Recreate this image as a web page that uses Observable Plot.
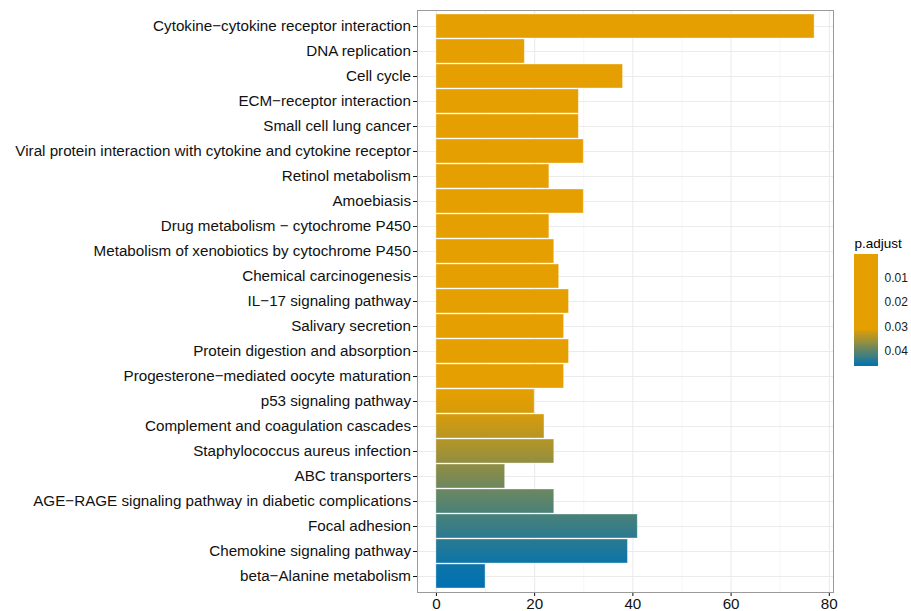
<!DOCTYPE html>
<html><head><meta charset="utf-8">
<script src="https://cdn.jsdelivr.net/npm/d3@7"></script>
<script src="https://cdn.jsdelivr.net/npm/@observablehq/plot@0.6"></script>
<style>
body{margin:0;background:#fff;font-family:"Liberation Sans",Arial,Helvetica,sans-serif;}
#wrap{position:relative;width:911px;height:611px;overflow:hidden;}
#main{position:absolute;left:0;top:0;}
#legend{position:absolute;left:840px;top:231px;}
</style></head><body>
<div id="wrap"><div id="main"></div><div id="legend"></div></div>
<script>
const pathways = [
  "Cytokine\u2212cytokine receptor interaction",
  "DNA replication",
  "Cell cycle",
  "ECM\u2212receptor interaction",
  "Small cell lung cancer",
  "Viral protein interaction with cytokine and cytokine receptor",
  "Retinol metabolism",
  "Amoebiasis",
  "Drug metabolism \u2212 cytochrome P450",
  "Metabolism of xenobiotics by cytochrome P450",
  "Chemical carcinogenesis",
  "IL\u221217 signaling pathway",
  "Salivary secretion",
  "Protein digestion and absorption",
  "Progesterone\u2212mediated oocyte maturation",
  "p53 signaling pathway",
  "Complement and coagulation cascades",
  "Staphylococcus aureus infection",
  "ABC transporters",
  "AGE\u2212RAGE signaling pathway in diabetic complications",
  "Focal adhesion",
  "Chemokine signaling pathway",
  "beta\u2212Alanine metabolism"
];
const counts = [77, 18, 38, 29, 29, 30, 23, 30, 23, 24, 25, 27, 26, 27, 26, 20, 22, 24, 14, 24, 41, 39, 10];
const padj = [0.0001, 0.0009, 0.0015, 0.0031, 0.0042, 0.0049, 0.0058, 0.0072, 0.0095, 0.011, 0.013, 0.015, 0.018, 0.021, 0.026,
              0.031, 0.033, 0.0355, 0.038, 0.0405, 0.0425, 0.0448, 0.0465];
const xTicks = [0, 20, 40, 60, 80];
const xMinor = [10, 30, 50, 70];
const legendTicks = [0.01, 0.02, 0.03, 0.04];
const colorDomain = [0, 0.031, 0.0465];
const colorRange = ["#E69F00", "#E69F00", "#0072B2"];

const data = pathways.map((p, i) => ({pathway: p, count: counts[i], padj: padj[i]}));
const n = data.length;

const plot = Plot.plot({
  width: 911,
  height: 611,
  marginLeft: 417,
  marginRight: 78,
  marginTop: 10,
  marginBottom: 19,
  style: {fontFamily: '"Liberation Sans", Arial, Helvetica, sans-serif', background: "#fff", color: "#1a1a1a"},
  x: {domain: [-3.85, 80.85], label: null},
  y: {domain: pathways, paddingInner: 0.05, paddingOuter: 0.125, label: null},
  color: {type: "linear", domain: colorDomain, range: colorRange, interpolate: "rgb"},
  marks: [
    Plot.gridX({ticks: xMinor, stroke: "#f0f0f0", strokeOpacity: 1, strokeWidth: 0.6}),
    Plot.gridX({ticks: xTicks, stroke: "#ebebeb", strokeOpacity: 1, strokeWidth: 1.1}),
    Plot.gridY({stroke: "#ebebeb", strokeOpacity: 1, strokeWidth: 1.1}),
    Plot.barX(data, {x: "count", y: "pathway", fill: "padj", stroke: "#ffffff", strokeOpacity: 0.45, strokeWidth: 0.8}),
    Plot.axisY({tickSize: 4, tickPadding: 2.5, fontSize: 15.2, color: "#111", label: null}),
    Plot.axisX({ticks: xTicks, tickSize: 4, tickPadding: 2, fontSize: 15.2, color: "#111", label: null}),
    Plot.frame({stroke: "#9a9a9a", strokeWidth: 1})
  ]
});
document.getElementById("main").appendChild(plot);

// vertical gradient within each bar, following the colour scale
const cs = plot.scale("color");
const svg = d3.select(plot);
const defs = svg.insert("defs", ":first-child");
svg.selectAll('g[aria-label="bar"] rect').each(function(_, i) {
  const top = i === 0 ? padj[0] : (padj[i - 1] + padj[i]) / 2;
  const bot = i === n - 1 ? padj[i] : (padj[i] + padj[i + 1]) / 2;
  const g = defs.append("linearGradient").attr("id", "bg" + i)
    .attr("x1", 0).attr("x2", 0).attr("y1", 0).attr("y2", 1);
  g.append("stop").attr("offset", 0).attr("stop-color", cs.apply(top));
  g.append("stop").attr("offset", 1).attr("stop-color", cs.apply(bot));
  d3.select(this).attr("fill", `url(#bg${i})`);
});

// colour bar legend
const pmin = d3.min(padj), pmax = d3.max(padj);
const ramp = d3.range(120).map(k => {
  const a = pmin + (pmax - pmin) * k / 120, b = pmin + (pmax - pmin) * (k + 1) / 120;
  return {a, b, m: (a + b) / 2};
});
const legend = Plot.plot({
  width: 71,
  height: 145,
  margin: 0,
  style: {fontFamily: '"Liberation Sans", Arial, Helvetica, sans-serif', background: "transparent", color: "#1a1a1a"},
  x: {domain: [0, 1], range: [14, 38], axis: null},
  y: {domain: [pmin, pmax], range: [23, 135], axis: null},
  color: {type: "linear", domain: colorDomain, range: colorRange, interpolate: "rgb"},
  marks: [
    Plot.rect(ramp, {x1: 0, x2: 1, y1: "a", y2: "b", fill: "m", inset: 0, shapeRendering: "crispEdges"}),
    Plot.text(legendTicks, {x: 1, y: d => d, dx: 6, textAnchor: "start", text: d => d.toFixed(2), fontSize: 12, fill: "#1a1a1a"}),
    Plot.text(["p.adjust"], {x: 0, y: pmin, dy: -11, textAnchor: "start", text: d => d, fontSize: 13.5, fill: "#000"})
  ]
});
document.getElementById("legend").appendChild(legend);
</script>
</body></html>
